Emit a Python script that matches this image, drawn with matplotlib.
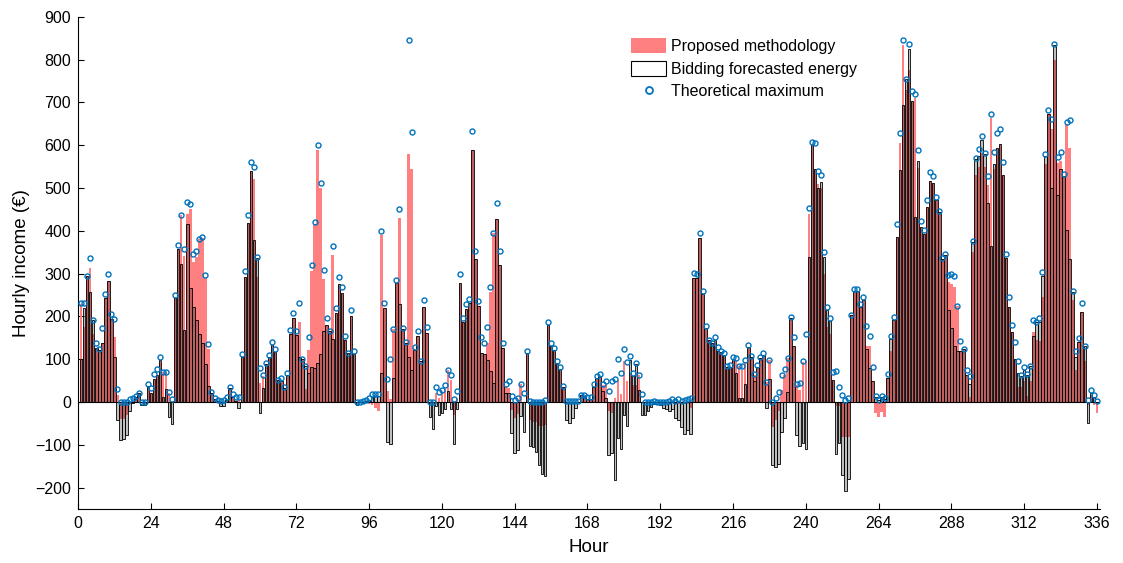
import numpy as np
import matplotlib.pyplot as plt
from matplotlib.patches import Patch
from matplotlib.lines import Line2D

plt.rcParams['font.family'] = ['Liberation Sans', 'DejaVu Sans']

# theoretical maximum (circles), hours 1..336
theo = [
    232, 232, 294, 337, 192, 137, 123, 173, 253, 300, 205, 193,
    31, 0, 0, 0, 6, 9, 15, 22, 0, 0, 41, 32,
    65, 77, 106, 70, 71, 24, 6, 250, 368, 437, 358, 468,
    462, 346, 354, 382, 385, 296, 135, 23, 9, 5, 2, 4,
    12, 35, 18, 11, 11, 112, 306, 437, 560, 550, 339, 79,
    64, 92, 109, 141, 124, 52, 55, 34, 68, 168, 209, 166,
    232, 101, 85, 152, 319, 421, 600, 512, 308, 197, 166, 364,
    219, 292, 268, 154, 115, 214, 120, 0, 0, 2, 5, 10,
    19, 18, 19, 399, 232, 54, 100, 171, 284, 451, 173, 140,
    845, 631, 129, 166, 95, 239, 175, 0, 0, 36, 23, 28,
    39, 75, 62, 8, 26, 300, 197, 228, 241, 634, 354, 235,
    151, 138, 176, 269, 395, 465, 352, 137, 41, 50, 14, 4,
    9, 42, 20, 118, 3, 0, 0, 0, 0, 5, 186, 138,
    127, 96, 81, 37, 2, 2, 2, 2, 2, 16, 16, 11,
    12, 42, 61, 65, 43, 50, 25, 49, 54, 101, 68, 123,
    94, 107, 68, 90, 64, 19, 0, 0, 0, 2, 0, 0,
    0, 0, 3, 6, 2, 6, 3, 4, 6, 10, 301, 298,
    396, 260, 177, 145, 138, 153, 128, 120, 114, 83, 87, 106,
    103, 84, 84, 97, 134, 108, 66, 86, 105, 114, 47, 99,
    0, 9, 23, 64, 78, 103, 198, 152, 43, 44, 95, 159,
    453, 608, 605, 540, 530, 350, 221, 196, 70, 72, 35, 17,
    4, 10, 204, 264, 265, 228, 245, 178, 155, 82, 13, 5,
    13, 10, 66, 155, 198, 416, 629, 845, 754, 837, 726, 720,
    589, 422, 402, 472, 537, 528, 479, 447, 336, 346, 297, 299,
    295, 224, 142, 124, 74, 61, 377, 571, 592, 622, 583, 528,
    672, 585, 628, 639, 562, 346, 246, 180, 140, 96, 64, 82,
    66, 83, 192, 186, 197, 303, 580, 682, 662, 837, 573, 584,
    532, 655, 659, 260, 119, 149, 231, 132, 5, 27, 16, 2,
]

# bidding forecasted energy (black outlined bars)
bid = [
    100, 219, 294, 257, 192, 125, 122, 138, 242, 283, 193, 105,
    -43, -90, -86, -78, -20, -3, 11, 20, -6, -6, 37, 22,
    54, 62, 98, 12, 30, -36, -51, 242, 357, 322, 168, 415,
    267, 221, 192, 159, 137, 89, 38, 20, 6, 2, -9, -9,
    4, 33, 12, 3, -14, 106, 291, 419, 540, 379, 336, -26,
    33, 89, 104, 133, 117, 51, 50, 32, 64, 158, 196, 157,
    104, 100, 85, 67, 82, 79, 92, 112, 165, 180, 165, 147,
    208, 276, 254, 146, 115, 202, 112, -6, 0, 0, 2, 4,
    12, 13, 14, 68, 220, -93, -99, 57, 278, 229, 171, 138,
    106, 75, 122, 155, 95, 223, 161, -35, -62, -10, -31, -26,
    -16, 26, -16, -99, -16, 279, 187, 217, 232, 590, 335, 224,
    115, 113, 99, 73, 45, 427, 321, 127, 22, 22, -73, -120,
    -112, -33, -71, 115, -104, -106, -117, -147, -168, -172, 179, 132,
    121, 92, 76, 34, -42, -50, -38, -15, 0, 16, 14, 6,
    6, 35, 56, 60, 25, 10, -124, -120, -183, -84, -110, -31,
    -57, 99, 60, 88, 27, -31, -31, -22, -12, -5, -5, -8,
    -13, -16, -21, -16, -37, -43, -58, -75, -66, -74, 290, 290,
    383, 253, 173, 145, 138, 145, 120, 117, 109, 82, 82, 101,
    68, 9, 9, 43, 128, 105, 50, 82, 103, 109, -13, 53,
    -148, -152, -144, -70, -37, 23, 197, 132, -76, -103, -95, -109,
    338, 600, 545, 500, 515, 338, 214, 190, 52, -122, -95, -171,
    -207, -181, 204, 259, 259, 221, 239, 124, 80, 50, 12, 5,
    12, 8, 57, 148, 192, 386, 542, 694, 754, 824, 703, 433,
    563, 409, 392, 455, 517, 511, 472, 443, 334, 344, 215, 173,
    132, 120, 120, 124, 64, 43, 373, 567, 575, 612, 580, 464,
    365, 556, 594, 604, 531, 336, 223, 163, 101, 68, 61, 74,
    64, 83, 155, 186, 186, 295, 575, 672, 499, 835, 483, 544,
    528, 402, 334, 256, 105, 140, 210, 132, -49, 21, 12, 0,
]

# proposed methodology (red bars)
prop = [
    230, 175, 294, 312, 159, 125, 122, 138, 242, 283, 193, 151,
    17, -40, -40, -30, -5, 0, 11, 20, -2, -2, 37, 22,
    54, 62, 98, 70, 70, 20, 0, 242, 357, 437, 341, 440,
    450, 326, 340, 380, 384, 290, 124, 20, 6, 2, -2, -2,
    4, 33, 12, 3, 5, 106, 291, 419, 540, 520, 291, 44,
    60, 89, 104, 133, 117, 51, 50, 32, 64, 158, 196, 157,
    186, 100, 30, 121, 305, 416, 590, 500, 287, 180, 165, 344,
    208, 276, 254, 146, 115, 202, 112, -2, 0, 0, 2, -5,
    -8, -15, -20, 391, 220, 26, 8, 171, 278, 429, 171, 138,
    580, 544, 122, 155, 95, 223, 161, -5, -5, 20, 10, 20,
    30, 75, 52, -31, 10, 279, 187, 217, 232, 590, 335, 224,
    115, 113, 138, 256, 395, 427, 321, 127, 35, 32, -19, -38,
    -27, 42, 0, 115, -42, -46, -47, -57, -57, -54, 179, 132,
    121, 92, 76, 34, -5, -5, -3, -2, 0, 16, 14, 6,
    6, 35, 56, 61, 40, 39, -20, -25, 10, 52, 19, 95,
    50, 66, 40, 40, 64, 0, 0, 0, -2, -2, -2, -3,
    -5, -5, -5, -3, -5, -5, -5, -5, -5, -15, 290, 290,
    383, 253, 173, 145, 138, 145, 120, 117, 109, 82, 82, 101,
    97, 84, 74, 93, 128, 105, 62, 82, 103, 109, 47, 99,
    -58, -43, -20, 27, 62, 103, 197, 132, 40, 27, 93, 95,
    439, 600, 545, 510, 500, 299, 175, 159, 52, -10, -10, -82,
    -82, -82, 204, 259, 259, 221, 239, 132, 132, 50, -25, -35,
    -23, -35, 57, 120, 192, 386, 606, 835, 730, 777, 703, 711,
    548, 409, 392, 455, 517, 511, 472, 443, 334, 344, 280, 276,
    268, 224, 120, 124, 64, 12, 350, 531, 549, 583, 549, 507,
    664, 544, 594, 604, 531, 336, 223, 163, 101, 35, 35, 50,
    15, 49, 163, 144, 142, 246, 557, 672, 639, 800, 559, 563,
    528, 649, 594, 239, 74, 140, 210, 96, -8, 13, -8, -25,
]

hours = np.arange(1, 337)
xticks = np.arange(0, 337, 24)
yticks = np.arange(-200, 901, 100)

fig = plt.figure(figsize=(11.23, 5.63), dpi=100)
ax = fig.add_axes([0.0695, 0.096, 0.910, 0.874])

ax.bar(hours, prop, width=0.85, color='#FF8080', linewidth=0, zorder=2)
ax.bar(hours, bid, width=0.85, facecolor=(0, 0, 0, 0.25), edgecolor='black',
       linewidth=0.6, zorder=3)
ax.plot(hours, theo, 'o', markersize=3.6, markerfacecolor='none',
        markeredgecolor='#0072BD', markeredgewidth=1.0, zorder=4)
ax.axhline(0, color='black', linewidth=0.8, zorder=3)

ax.set_xlim(0, 337)
ax.set_ylim(-250, 900)
ax.set_xticks(xticks)
ax.set_yticks(yticks)
ax.tick_params(direction='in', length=4, labelsize=11.5, width=0.8, pad=5)
ax.spines['top'].set_visible(False)
ax.spines['right'].set_visible(False)
ax.set_xlabel('Hour', fontsize=13.5, labelpad=6)
ax.set_ylabel('Hourly income (€)', fontsize=13.5, labelpad=4)

handles = [
    Patch(facecolor='#FF8080', edgecolor='none'),
    Patch(facecolor='white', edgecolor='black', linewidth=0.8),
    Line2D([], [], linestyle='none', marker='o', markersize=5,
           markerfacecolor='none', markeredgecolor='#0072BD', markeredgewidth=1.3),
]
labels = ['Proposed methodology', 'Bidding forecasted energy', 'Theoretical maximum']
ax.legend(handles, labels, loc='upper left', bbox_to_anchor=(0.535, 0.97),
          frameon=False, fontsize=11.5, handlelength=2.2, handleheight=1.1,
          handletextpad=0.3, labelspacing=0.4, borderaxespad=0)

fig.savefig('out.png', dpi=100)
